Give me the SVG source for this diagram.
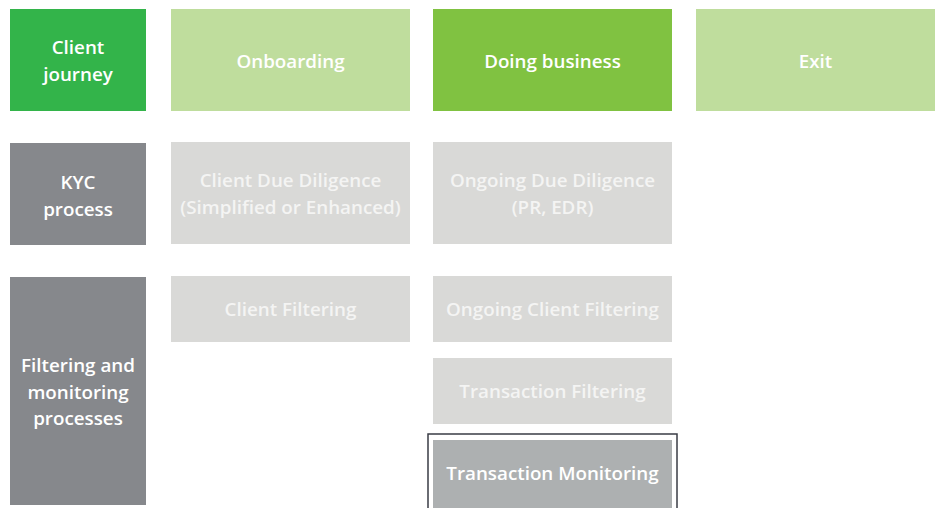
<svg xmlns="http://www.w3.org/2000/svg" width="938" height="508" viewBox="0 0 938 508">
  <style>
    text { font-family: "Open Sans", "Noto Sans", "Liberation Sans", sans-serif; font-weight: 600; font-size: 18.8px; text-anchor: middle; fill: #ffffff; }
    .pale { fill: #f4f4f3; }
    .g1 { fill: #33b44a; }
    .g2 { fill: #80c241; }
    .g3 { fill: #bfdd9d; }
    .dk { fill: #86888c; }
    .lt { fill: #d9d9d7; }
    .md { fill: #adb0b1; }
  </style>
  <rect width="938" height="508" fill="#ffffff"/>

  <!-- Row 1: client journey -->
  <g id="client-journey">
    <rect class="g1" x="10" y="9" width="136" height="102"/>
    <text x="78" y="54">Client</text>
    <text x="78" y="81">journey</text>
  </g>
  <g id="onboarding">
    <rect class="g3" x="171" y="9" width="239" height="102"/>
    <text x="290.5" y="68">Onboarding</text>
  </g>
  <g id="doing-business">
    <rect class="g2" x="433" y="9" width="239" height="102"/>
    <text x="552.5" y="68">Doing business</text>
  </g>
  <g id="exit">
    <rect class="g3" x="696" y="9" width="239" height="102"/>
    <text x="815.5" y="68">Exit</text>
  </g>

  <!-- Row 2: KYC process -->
  <g id="kyc-process">
    <rect class="dk" x="10" y="143" width="136" height="102"/>
    <text x="78" y="189">KYC</text>
    <text x="78" y="216">process</text>
  </g>
  <g id="client-due-diligence">
    <rect class="lt" x="171" y="142" width="239" height="102"/>
    <text class="pale" x="290.5" y="187">Client Due Diligence</text>
    <text class="pale" x="290.5" y="214">(Simplified or Enhanced)</text>
  </g>
  <g id="ongoing-due-diligence">
    <rect class="lt" x="433" y="142" width="239" height="102"/>
    <text class="pale" x="552.5" y="187">Ongoing Due Diligence</text>
    <text class="pale" x="552.5" y="214">(PR, EDR)</text>
  </g>

  <!-- Row 3: filtering and monitoring -->
  <g id="filtering-monitoring">
    <rect class="dk" x="10" y="277" width="136" height="228"/>
    <text x="78" y="372">Filtering and</text>
    <text x="78" y="399">monitoring</text>
    <text x="78" y="425">processes</text>
  </g>
  <g id="client-filtering">
    <rect class="lt" x="171" y="276" width="239" height="66"/>
    <text class="pale" x="290.5" y="316">Client Filtering</text>
  </g>
  <g id="ongoing-client-filtering">
    <rect class="lt" x="433" y="276" width="239" height="66"/>
    <text class="pale" x="552.5" y="316">Ongoing Client Filtering</text>
  </g>
  <g id="transaction-filtering">
    <rect class="lt" x="433" y="358" width="239" height="66"/>
    <text class="pale" x="552.5" y="398">Transaction Filtering</text>
  </g>
  <g id="transaction-monitoring">
    <rect x="428" y="434" width="249" height="80" fill="none" stroke="#3a3d45" stroke-width="1.5"/>
    <rect class="md" x="433" y="440" width="239" height="70"/>
    <text x="552.5" y="480">Transaction Monitoring</text>
  </g>

  <g id="connectors"/>
</svg>
